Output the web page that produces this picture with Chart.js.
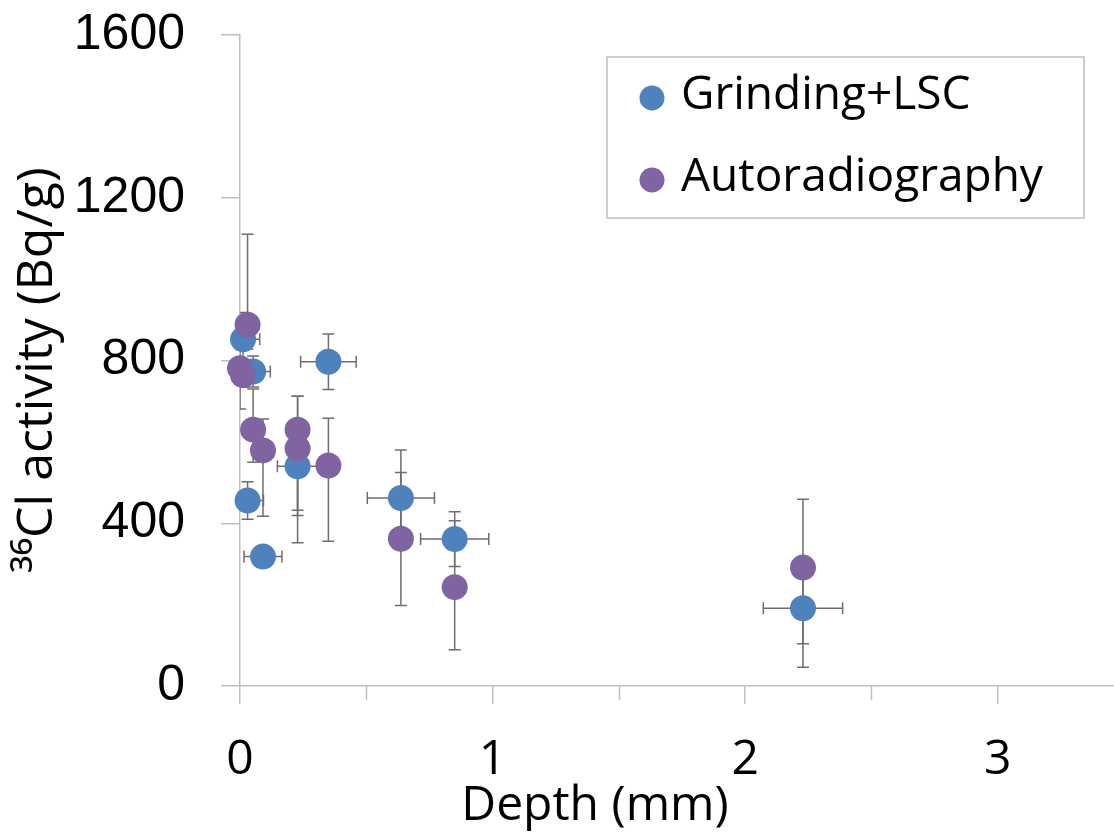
<!DOCTYPE html>
<html>
<head>
<meta charset="utf-8">
<script src="https://cdn.jsdelivr.net/npm/chart.js@4.4.1/dist/chart.umd.min.js"></script>
<style>
  html, body { margin: 0; padding: 0; background: #fff; overflow: hidden; }
  #wrap { position: absolute; left: 0; top: 0; width: 1137px; height: 833px; }
</style>
</head>
<body>
<div id="wrap"><canvas id="chart" width="1137" height="833"></canvas></div>
<script>
// Grinding + LSC
const lscDepth    = [0.012, 0.052, 0.030, 0.091, 0.228, 0.350, 0.637, 0.850, 2.229];
const lscActivity = [852, 773, 456, 318, 540, 797, 462, 361, 191];
const lscDepthErr = [0.066, 0.068, 0.063, 0.075, 0.080, 0.110, 0.133, 0.135, 0.157];
const lscErrUp    = [66, 38, 46, 10, 108, 68, 118, 67, 87];
const lscErrDown  = [66, 38, 46, 10, 108, 68, 118, 67, 145];

// Autoradiography
const autoDepth    = [0.030, 0.000, 0.012, 0.052, 0.091, 0.228, 0.228, 0.350, 0.637, 0.850, 2.229];
const autoActivity = [888, 781, 764, 630, 579, 630, 584, 542, 362, 243, 291];
const autoErrUp    = [222, 100, 30, 100, 77, 82, 128, 116, 163, 163, 168];
const autoErrDown  = [60, 100, 30, 80, 162, 211, 232, 186, 164, 154, 187];

const seriesNames = ['Grinding+LSC', 'Autoradiography'];
const xTitle = 'Depth (mm)';
const yTitle = '\u00B3\u2076Cl activity (Bq/g)';

const blue = '#4F81BD';
const purple = '#8064A2';
const axisGray = '#bfbfbf';
const errGray = '#6e6e6e';

function toPoints(xs, ys) {
    return xs.map((x, i) => ({ x: x, y: ys[i] }));
}

// error bars drawn under the markers, clipped to the plot area like Excel does
const errorBars = {
    id: 'errorBars',
    beforeDatasetsDraw(chart) {
        const ctx = chart.ctx;
        const xs = chart.scales.x, ys = chart.scales.y;
        const area = chart.chartArea;
        const cap = 6;
        ctx.save();
        ctx.beginPath();
        ctx.rect(area.left, area.top, area.right - area.left, area.bottom - area.top);
        ctx.clip();
        ctx.strokeStyle = errGray;
        ctx.lineWidth = 1.5;
        chart.data.datasets.forEach(ds => {
            ds.data.forEach((p, i) => {
                const px = xs.getPixelForValue(p.x);
                const py = ys.getPixelForValue(p.y);
                ctx.beginPath();
                if (ds.errUp) {
                    const top = ys.getPixelForValue(p.y + ds.errUp[i]);
                    const bot = ys.getPixelForValue(p.y - ds.errDown[i]);
                    ctx.moveTo(px, top); ctx.lineTo(px, bot);
                    ctx.moveTo(px - cap, top); ctx.lineTo(px + cap, top);
                    ctx.moveTo(px - cap, bot); ctx.lineTo(px + cap, bot);
                }
                if (ds.errX) {
                    const l = xs.getPixelForValue(p.x - ds.errX[i]);
                    const r = xs.getPixelForValue(p.x + ds.errX[i]);
                    ctx.moveTo(l, py); ctx.lineTo(r, py);
                    ctx.moveTo(l, py - cap); ctx.lineTo(l, py + cap);
                    ctx.moveTo(r, py - cap); ctx.lineTo(r, py + cap);
                }
                ctx.stroke();
            });
        });
        ctx.restore();
    }
};

// minor x ticks, titles and the boxed legend
const decorations = {
    id: 'decorations',
    afterDraw(chart) {
        const ctx = chart.ctx;
        const xs = chart.scales.x;
        const area = chart.chartArea;
        ctx.save();

        ctx.strokeStyle = axisGray;
        ctx.lineWidth = 1.5;
        xs.ticks.forEach(t => {
            if (Number.isInteger(t.value)) return;
            const px = Math.round(xs.getPixelForValue(t.value)) + 0.5;
            ctx.beginPath();
            ctx.moveTo(px, area.bottom);
            ctx.lineTo(px, area.bottom + 14);
            ctx.stroke();
        });

        ctx.fillStyle = '#000';
        ctx.textAlign = 'center';
        ctx.textBaseline = 'middle';
        ctx.font = '48px "Open Sans"';
        ctx.fillText(xTitle, 595, 806);

        ctx.save();
        ctx.translate(38, 370);
        ctx.rotate(-Math.PI / 2);
        ctx.font = '50px "Open Sans"';
        ctx.fillText(yTitle, 0, 0);
        ctx.restore();

        // legend box
        ctx.fillStyle = '#fff';
        ctx.fillRect(607, 57, 477, 161);
        ctx.strokeStyle = axisGray;
        ctx.lineWidth = 1.5;
        ctx.strokeRect(607, 57, 477, 161);
        const rows = [98, 180];
        chart.data.datasets.forEach((ds, i) => {
            ctx.fillStyle = ds.backgroundColor;
            ctx.beginPath();
            ctx.arc(652, rows[i], 12.5, 0, Math.PI * 2);
            ctx.fill();
            ctx.fillStyle = '#000';
            ctx.textAlign = 'left';
            ctx.font = '46px "Open Sans"';
            ctx.fillText(ds.label, 681, rows[i] - 2);
        });
        ctx.restore();
    }
};

new Chart(document.getElementById('chart').getContext('2d'), {
    type: 'scatter',
    data: {
        datasets: [{
            label: seriesNames[0],
            data: toPoints(lscDepth, lscActivity),
            errX: lscDepthErr,
            errUp: lscErrUp,
            errDown: lscErrDown,
            backgroundColor: blue,
            borderWidth: 0,
            pointRadius: 13,
            clip: false,
            order: 1
        }, {
            label: seriesNames[1],
            data: toPoints(autoDepth, autoActivity),
            errUp: autoErrUp,
            errDown: autoErrDown,
            backgroundColor: purple,
            borderWidth: 0,
            pointRadius: 13,
            clip: false,
            order: 0
        }]
    },
    options: {
        responsive: false,
        animation: false,
        layout: { padding: { top: 35, left: 0, right: 0, bottom: 0 } },
        plugins: {
            legend: { display: false },
            tooltip: { enabled: false }
        },
        scales: {
            x: {
                type: 'linear',
                min: 0,
                max: 3.5,
                ticks: {
                    stepSize: 0.5,
                    autoSkip: false,
                    maxRotation: 0,
                    padding: 28,
                    color: '#000',
                    font: { family: 'Open Sans', size: 48 },
                    callback: v => Number.isInteger(v) ? String(v) : ''
                },
                grid: {
                    drawOnChartArea: false,
                    tickLength: 18,
                    lineWidth: 1.5,
                    color: c => (c.tick && Number.isInteger(c.tick.value)) ? axisGray : 'rgba(0,0,0,0)'
                },
                border: { color: axisGray, width: 1.5 },
                afterFit: s => { s.height = 147; s.paddingLeft = 0; s.paddingRight = 0; }
            },
            y: {
                min: 0,
                max: 1600,
                ticks: {
                    stepSize: 400,
                    padding: 36,
                    color: '#000',
                    font: { family: 'Liberation Sans', size: 50 },
                    callback: v => String(v)
                },
                grid: {
                    drawOnChartArea: false,
                    tickLength: 19,
                    lineWidth: 1.5,
                    color: axisGray
                },
                border: { color: axisGray, width: 1.5 },
                afterFit: s => { s.width = 240; s.paddingTop = 0; s.paddingBottom = 0; }
            }
        }
    },
    plugins: [errorBars, decorations]
});
</script>
</body>
</html>
